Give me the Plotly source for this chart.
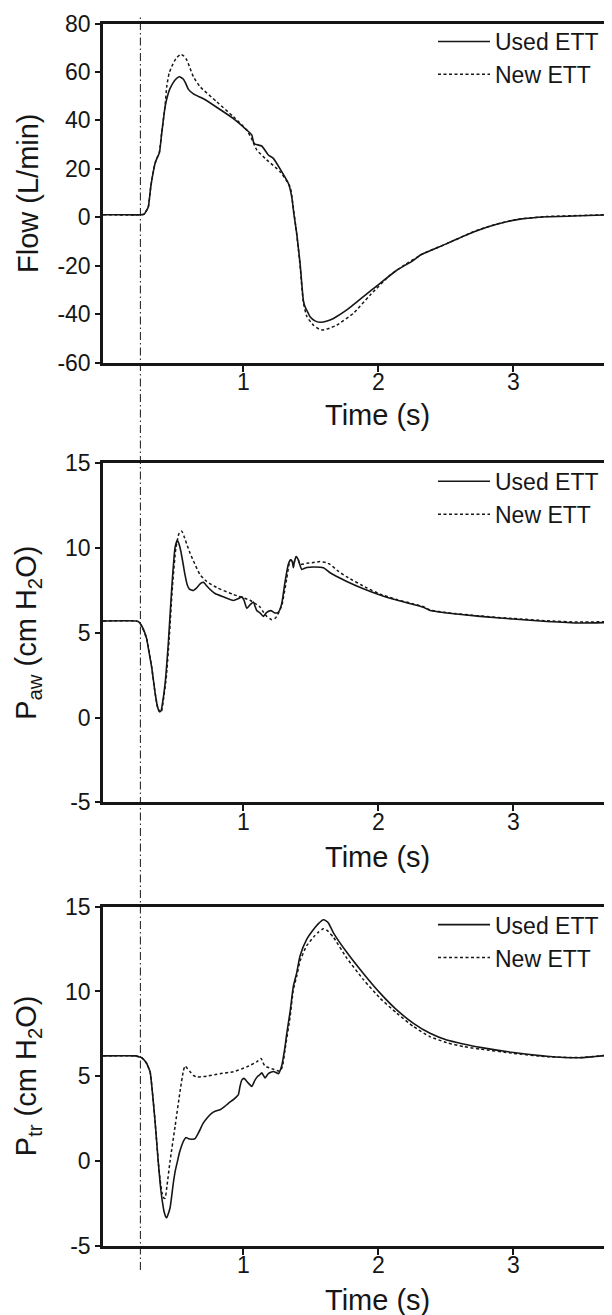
import plotly.graph_objects as go

# ---------------- data ----------------
flow_t_used = [-0.04, 0.10, 0.237, 0.265, 0.285, 0.296, 0.314, 0.330, 0.346, 0.365, 0.378, 0.395, 0.420, 0.440,
               0.457, 0.494, 0.526, 0.556, 0.575, 0.593, 0.630, 0.704, 0.802, 0.926, 1.025, 1.062, 1.075, 1.086,
               1.136, 1.185, 1.222, 1.284, 1.333, 1.358, 1.375, 1.395, 1.420, 1.444, 1.457, 1.481, 1.494, 1.530,
               1.568, 1.620, 1.667, 1.766, 1.889, 2.013, 2.136, 2.260, 2.309, 2.334, 2.507, 2.704, 2.877, 3.050,
               3.248, 3.494, 3.680]
flow_used = [1.0, 1.0, 1.0, 1.3, 3.0, 4.3, 12.6, 18.0, 22.3, 25.0, 26.6, 34.6, 45.6, 50.5,
             53.2, 56.7, 58.0, 57.0, 55.0, 52.8, 50.9, 48.9, 45.4, 40.7, 36.0, 34.0, 31.0, 30.2,
             29.4, 25.7, 24.3, 18.8, 14.0, 8.5, 1.0, -6.7, -19.1, -34.2, -37.0, -39.7, -41.1, -42.8,
             -43.4, -42.9, -41.8, -38.3, -32.8, -27.3, -21.9, -17.8, -15.7, -15.0, -10.9, -6.1, -2.9, -0.8,
             0.2, 0.6, 0.9]

flow_t_new = [-0.04, 0.237, 0.265, 0.285, 0.296, 0.314, 0.330, 0.346, 0.365, 0.378, 0.395, 0.420, 0.432, 0.450,
              0.469, 0.500, 0.536, 0.560, 0.580, 0.605, 0.630, 0.679, 0.802, 0.926, 1.025, 1.060, 1.099, 1.173,
              1.272, 1.346, 1.365, 1.395, 1.420, 1.444, 1.470, 1.519, 1.560, 1.588, 1.640, 1.691, 1.815, 1.938,
              2.087, 2.200, 2.334, 2.507, 2.704, 2.877, 3.050, 3.248, 3.494, 3.680]
flow_new = [1.0, 1.0, 1.3, 3.0, 4.3, 12.6, 18.0, 22.3, 25.0, 27.0, 35.0, 46.0, 53.9, 59.5,
            62.2, 65.5, 67.3, 66.5, 65.0, 61.5, 58.0, 53.9, 47.7, 41.5, 36.0, 32.5, 27.8, 23.7,
            18.8, 12.6, 6.0, -7.0, -20.0, -35.0, -41.0, -44.6, -46.2, -46.6, -45.8, -44.6, -39.7, -32.2,
            -23.9, -19.5, -15.0, -10.9, -6.0, -2.8, -0.7, 0.3, 0.7, 1.0]

paw_t_used = [-0.04, 0.205, 0.225, 0.247, 0.265, 0.284, 0.300, 0.321, 0.346, 0.362, 0.378, 0.390, 0.400, 0.420,
              0.444, 0.469, 0.494, 0.511, 0.525, 0.536, 0.555, 0.568, 0.585, 0.600, 0.630, 0.650, 0.667, 0.690,
              0.704, 0.720, 0.741, 0.790, 0.852, 0.926, 0.963, 0.988, 1.005, 1.025, 1.049, 1.074, 1.085, 1.099,
              1.123, 1.148, 1.173, 1.202, 1.235, 1.259, 1.284, 1.309, 1.333, 1.350, 1.362, 1.370, 1.378, 1.390,
              1.405, 1.415, 1.432, 1.469, 1.519, 1.593, 1.642, 1.766, 1.889, 2.013, 2.136, 2.260, 2.334, 2.383,
              2.507, 2.754, 3.001, 3.248, 3.494, 3.680]
paw_used = [5.7, 5.7, 5.65, 5.4, 5.1, 4.63, 3.9, 2.95, 1.45, 0.7, 0.35, 0.4, 0.8, 2.0,
            4.4, 7.6, 10.04, 10.45, 10.2, 9.84, 9.0, 8.4, 7.8, 7.58, 7.5, 7.62, 7.78, 7.95,
            7.98, 7.85, 7.66, 7.32, 7.12, 6.91, 7.02, 7.12, 6.91, 6.45, 6.65, 6.82, 6.6, 6.31,
            6.17, 5.97, 6.21, 6.31, 6.17, 6.21, 6.72, 8.03, 9.04, 9.3, 9.2, 8.84, 9.2, 9.48,
            9.35, 9.1, 8.74, 8.85, 8.88, 8.84, 8.54, 8.03, 7.6, 7.23, 6.93, 6.67, 6.51, 6.31,
            6.17, 5.97, 5.81, 5.67, 5.58, 5.6]

paw_t_new = [-0.04, 0.205, 0.225, 0.247, 0.284, 0.321, 0.346, 0.365, 0.385, 0.395, 0.405, 0.428, 0.450, 0.475,
             0.500, 0.525, 0.543, 0.560, 0.580, 0.605, 0.630, 0.679, 0.728, 0.802, 0.926, 1.049, 1.123, 1.150,
             1.173, 1.210, 1.235, 1.247, 1.284, 1.321, 1.340, 1.352, 1.365, 1.372, 1.380, 1.392, 1.405, 1.420,
             1.470, 1.520, 1.568, 1.610, 1.642, 1.700, 1.766, 1.914, 2.013, 2.136, 2.260, 2.334, 2.383, 2.507,
             2.754, 3.001, 3.248, 3.494, 3.680]
paw_new = [5.7, 5.7, 5.65, 5.4, 4.63, 2.95, 1.45, 0.6, 0.3, 0.4, 0.9, 2.3, 4.6, 7.8,
           10.0, 10.9, 11.0, 10.7, 10.24, 9.7, 9.24, 8.43, 8.03, 7.67, 7.26, 6.92, 6.52, 6.2,
           5.97, 5.77, 5.85, 5.97, 6.6, 8.2, 9.1, 9.3, 9.15, 8.95, 9.25, 9.5, 9.35, 9.04,
           9.1, 9.15, 9.2, 9.15, 9.04, 8.65, 8.3, 7.65, 7.28, 6.96, 6.7, 6.54, 6.34, 6.19,
           5.99, 5.84, 5.71, 5.63, 5.66]

ptr_t_used = [-0.04, 0.200, 0.225, 0.247, 0.265, 0.284, 0.300, 0.309, 0.318, 0.328, 0.345, 0.358, 0.370, 0.383,
              0.398, 0.412, 0.425, 0.432, 0.440, 0.457, 0.470, 0.481, 0.495, 0.511, 0.525, 0.543, 0.558, 0.575,
              0.590, 0.605, 0.625, 0.642, 0.660, 0.679, 0.700, 0.728, 0.760, 0.790, 0.827, 0.860, 0.889, 0.930,
              0.963, 0.975, 0.988, 1.005, 1.020, 1.037, 1.062, 1.086, 1.105, 1.118, 1.136, 1.148, 1.160, 1.185,
              1.222, 1.245, 1.259, 1.284, 1.309, 1.321, 1.346, 1.370, 1.395, 1.420, 1.469, 1.519, 1.556, 1.593,
              1.615, 1.630, 1.667, 1.766, 1.889, 2.013, 2.136, 2.260, 2.383, 2.507, 2.630, 2.754, 3.001, 3.248,
              3.494, 3.704]
ptr_used = [6.2, 6.2, 6.15, 6.09, 5.95, 5.75, 5.45, 5.26, 4.7, 3.9, 2.4, 1.1, -0.1, -1.3,
            -2.3, -2.97, -3.3, -3.35, -3.2, -2.76, -2.0, -1.3, -0.6, -0.04, 0.45, 0.91, 1.2, 1.38,
            1.33, 1.29, 1.28, 1.32, 1.55, 1.85, 2.2, 2.51, 2.78, 2.93, 3.02, 3.2, 3.4, 3.65,
            3.92, 4.4, 4.77, 4.87, 4.75, 4.59, 4.4, 4.77, 4.98, 5.06, 5.2, 5.05, 4.9, 5.15,
            5.28, 5.2, 5.15, 5.62, 6.76, 7.5, 8.8, 10.3, 11.1, 12.11, 13.07, 13.65, 14.0, 14.23,
            14.15, 14.04, 13.46, 12.31, 11.06, 9.9, 8.91, 8.12, 7.53, 7.13, 6.9, 6.7, 6.4, 6.18,
            6.09, 6.24]

ptr_t_new = [-0.04, 0.200, 0.225, 0.247, 0.265, 0.284, 0.300, 0.309, 0.318, 0.328, 0.345, 0.358, 0.370, 0.383,
             0.398, 0.412, 0.420, 0.435, 0.457, 0.494, 0.531, 0.555, 0.568, 0.585, 0.605, 0.630, 0.654, 0.728,
             0.827, 0.926, 1.025, 1.099, 1.131, 1.145, 1.160, 1.222, 1.272, 1.290, 1.309, 1.346, 1.370, 1.395,
             1.420, 1.469, 1.519, 1.556, 1.593, 1.620, 1.667, 1.766, 1.889, 2.013, 2.136, 2.260, 2.383, 2.507,
             2.630, 2.754, 3.001, 3.248, 3.494, 3.704]
ptr_new = [6.2, 6.2, 6.15, 6.09, 5.95, 5.75, 5.45, 5.26, 4.7, 3.9, 2.4, 1.1, -0.1, -1.1,
           -1.9, -2.2, -2.2, -1.4, 0.0, 2.04, 4.12, 5.3, 5.6, 5.45, 5.26, 5.05, 4.95, 5.0,
           5.15, 5.26, 5.55, 5.85, 6.05, 5.8, 5.6, 5.41, 5.3, 5.6, 6.6, 8.5, 10.1, 10.9,
           11.8, 12.7, 13.2, 13.5, 13.7, 13.6, 13.2, 11.97, 10.7, 9.6, 8.72, 7.93, 7.33, 6.98,
           6.75, 6.6, 6.35, 6.15, 6.1, 6.25]

series_names = ["Used ETT", "New ETT"]
flow_ticks = [-60, -40, -20, 0, 20, 40, 60, 80]
flow_ticklabels = ["-60", "-40", "-20", "0", "20", "40", "60", "80"]
p_ticks = [-5, 0, 5, 10, 15]
p_ticklabels = ["-5", "0", "5", "10", "15"]
time_ticks = [1, 2, 3]
time_ticklabels = ["1", "2", "3"]
y_titles = ["Flow (L/min)", "P<sub>aw</sub> (cm H<sub>2</sub>O)", "P<sub>tr</sub> (cm H<sub>2</sub>O)"]
x_title = "Time (s)"
stimulus_time = 0.237

# ---------------- styling / layout ----------------
# The page body keeps its default 8 px margin, so the figure starts 8 px in;
# all pixel positions below are page (window) coordinates.
OFF = 8
W, H = 612 - OFF, 1315 - OFF
INK = "#161616"
FONT = "Liberation Sans, Arial, Helvetica, sans-serif"
plot_left, plot_right = 103, 610
panels_px = [(23.5, 362.5), (463.3, 802.3), (906.7, 1245.7)]   # (top, bottom) of each plot area
xtitle_px = [415, 857, 1300]

def py(p):
    return 1 - (p - OFF) / H

fig = go.Figure()

data = [
    (flow_t_used, flow_used, flow_t_new, flow_new),
    (paw_t_used, paw_used, paw_t_new, paw_new),
    (ptr_t_used, ptr_used, ptr_t_new, ptr_new),
]
legend_ids = ["legend", "legend2", "legend3"]

for i, (tu, vu, tn, vn) in enumerate(data):
    xa = "x" if i == 0 else f"x{i+1}"
    ya = "y" if i == 0 else f"y{i+1}"
    fig.add_trace(go.Scatter(x=tu, y=vu, mode="lines", name=series_names[0],
                             line=dict(color=INK, width=1.6, shape="spline", smoothing=0.5),
                             xaxis=xa, yaxis=ya, legend=legend_ids[i]))
    fig.add_trace(go.Scatter(x=tn, y=vn, mode="lines", name=series_names[1],
                             line=dict(color=INK, width=1.5, dash="3px,2.5px", shape="spline", smoothing=0.5),
                             xaxis=xa, yaxis=ya, legend=legend_ids[i]))

layout = dict(
    width=W, height=H,
    margin=dict(l=plot_left - OFF, r=W - (plot_right - OFF), t=0, b=0, pad=0, autoexpand=False),
    paper_bgcolor="white", plot_bgcolor="white",
    font=dict(family=FONT, color=INK, size=23),
    showlegend=True,
)

pw = plot_right - plot_left
for i in range(3):
    sfx = "" if i == 0 else str(i + 1)
    top, bot = panels_px[i]
    layout["xaxis" + sfx] = dict(
        domain=[0, 1], anchor="y" + sfx, range=[-0.04, 3.716],
        tickvals=time_ticks, ticktext=time_ticklabels,
        ticks="outside", ticklen=6, tickwidth=1.5, tickcolor=INK, ticklabelstandoff=-9,
        showline=True, linewidth=3, linecolor=INK, mirror=True, automargin=False,
        showgrid=False, zeroline=False, tickfont=dict(size=23, family=FONT, color=INK),
    )
    if i == 0:
        yr, tv, tt = [-60, 80], flow_ticks, flow_ticklabels
    else:
        yr, tv, tt = [-5, 15], p_ticks, p_ticklabels
    layout["yaxis" + sfx] = dict(
        domain=[py(bot), py(top)], anchor="x" + sfx, range=yr,
        tickvals=tv, ticktext=tt,
        ticks="outside", ticklen=5, tickwidth=1.5, tickcolor=INK,
        showline=True, linewidth=2.5, linecolor=INK, mirror=True, automargin=False,
        showgrid=False, zeroline=False, tickfont=dict(size=23, family=FONT, color=INK),
    )
    layout[legend_ids[i]] = dict(
        x=1.0 - 6 / pw, xanchor="right", y=py(top - 3.5), yanchor="top",
        bgcolor="rgba(0,0,0,0)", borderwidth=0,
        font=dict(size=23, family=FONT, color=INK),
        itemwidth=52, tracegroupgap=0,
    )

fig.update_layout(**layout)

annotations = []
for i in range(3):
    top, bot = panels_px[i]
    annotations.append(dict(
        text=y_titles[i], textangle=-90, xref="paper", yref="paper",
        x=(28 - plot_left) / pw, y=py((top + bot) / 2),
        xanchor="center", yanchor="middle", showarrow=False,
        font=dict(size=29, family=FONT, color=INK)))
    annotations.append(dict(
        text=x_title, xref="paper", yref="paper",
        x=(377 - plot_left) / pw, y=py(xtitle_px[i]),
        xanchor="center", yanchor="middle", showarrow=False,
        font=dict(size=29, family=FONT, color=INK)))
fig.update_layout(annotations=annotations)

fig.add_shape(type="line", xref="x", yref="paper",
              x0=stimulus_time, x1=stimulus_time, y0=py(1270), y1=py(15),
              line=dict(color=INK, width=1, dash="8px,3px,1.5px,3px"))

fig.write_html("out.html")
